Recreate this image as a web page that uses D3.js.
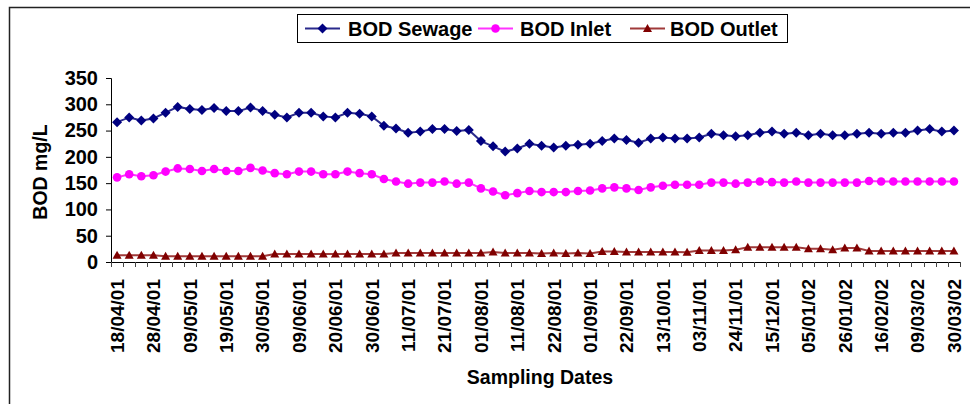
<!DOCTYPE html>
<html>
<head>
<meta charset="utf-8">
<script src="https://cdn.jsdelivr.net/npm/d3@7"></script>
<style>
    body { margin: 0; background: #fff; }
    svg { font-family: "Liberation Sans", Arial, sans-serif; font-weight: bold; }
</style>
</head>
<body>
<div id="chart"></div>
<script>
// x labels shown on every 3rd sampling point
const tickLabels = ['18/04/01', '28/04/01', '09/05/01', '19/05/01', '30/05/01', '09/06/01',
    '20/06/01', '30/06/01', '11/07/01', '21/07/01', '01/08/01', '11/08/01', '22/08/01',
    '01/09/01', '22/09/01', '13/10/01', '03/11/01', '24/11/01', '15/12/01', '05/01/02',
    '26/01/02', '16/02/02', '09/03/02', '30/03/02'];
const labelStep = 3;

const sewage = [266, 275, 269, 273, 284, 295, 291, 289, 293, 287, 287, 294, 287, 280, 275, 284, 284, 277,
    275, 284, 282, 277, 259, 254, 246, 248, 253, 253, 249, 251, 230, 220, 210, 216, 225,
    221, 218, 221, 223, 225, 230, 235, 232, 227, 235, 237, 235, 235, 237, 244, 241, 239,
    241, 246, 248, 244, 246, 241, 244, 241, 241, 244, 246, 244, 246, 246, 250, 253, 248, 250];
const inlet = [161, 167, 163, 165, 172, 178, 177, 173, 177, 173, 173, 179, 174, 169, 167, 172, 172, 167,
    167, 172, 169, 167, 158, 153, 149, 151, 151, 153, 149, 151, 140, 134, 127, 131, 135,
    133, 133, 133, 135, 136, 140, 142, 140, 137, 142, 145, 147, 147, 147, 151, 151, 149,
    151, 153, 152, 151, 153, 151, 151, 151, 151, 151, 154, 153, 153, 153, 153, 153, 153, 153];
const outlet = [13, 13, 13, 13, 11, 11, 11, 11, 11, 11, 11, 11, 11, 15, 15, 15, 15, 15,
    15, 15, 15, 15, 15, 17, 17, 17, 17, 17, 17, 17, 17, 19, 17, 17, 17,
    16, 17, 16, 17, 16, 20, 20, 19, 19, 19, 19, 19, 18.5, 22, 22, 22, 23.5,
    28, 28, 28, 28, 28, 25, 25, 23.5, 26.5, 26.5, 21, 21, 21, 21, 21, 21, 21, 21];
const yTicks = [0, 50, 100, 150, 200, 250, 300, 350];

const series = [
    { name: 'BOD Sewage', values: sewage, color: '#000080', line: '#2a2a8c', marker: 'diamond' },
    { name: 'BOD Inlet', values: inlet, color: '#ff00ff', line: '#ff33ff', marker: 'circle' },
    { name: 'BOD Outlet', values: outlet, color: '#800000', line: '#a03a3a', marker: 'triangle' }
];

const W = 970, H = 404;
const plot = { left: 111, right: 960, top: 78, bottom: 262 };

let svg = d3.select('#chart').append('svg')
    .attr('width', W)
    .attr('height', H);

// outer frame (top + left edge visible)
svg.append('path')
    .attr('d', `M9.5,${H} V7.5 H${W}`)
    .attr('fill', 'none')
    .attr('stroke', '#222')
    .attr('stroke-width', 1.5);

let idx = d3.range(sewage.length);
let x = d3.scaleBand().domain(idx).range([plot.left, plot.right]);
let cx = i => x(i) + x.bandwidth() / 2;
let y = d3.scaleLinear().domain([0, 350]).range([plot.bottom, plot.top]);

// y axis
let yAxis = svg.append('g')
    .attr('transform', `translate(${plot.left},0)`)
    .call(d3.axisLeft(y).tickValues(yTicks).tickSize(5).tickPadding(8));
yAxis.select('.domain').attr('stroke', '#000');
yAxis.selectAll('.tick line').attr('stroke', '#000');
yAxis.selectAll('text')
    .attr('font-size', 20)
    .attr('font-family', '"Liberation Sans", Arial, sans-serif')
    .attr('font-weight', 'bold')
    .attr('fill', '#000');

// x axis: ticks between categories
let xg = svg.append('g');
xg.append('line')
    .attr('x1', plot.left).attr('x2', plot.right)
    .attr('y1', plot.bottom + 0.5).attr('y2', plot.bottom + 0.5)
    .attr('stroke', '#000');
xg.selectAll('line.tk')
    .data(d3.range(sewage.length + 1))
    .join('line')
    .attr('class', 'tk')
    .attr('x1', i => Math.round(plot.left + i * x.step()) + 0.5)
    .attr('x2', i => Math.round(plot.left + i * x.step()) + 0.5)
    .attr('y1', plot.bottom)
    .attr('y2', plot.bottom + 5)
    .attr('stroke', '#444');
xg.selectAll('text')
    .data(tickLabels)
    .join('text')
    .attr('transform', (d, i) => `translate(${cx(i * labelStep)},${plot.bottom + 17}) rotate(-90)`)
    .attr('text-anchor', 'end')
    .attr('dy', '0.36em')
    .attr('font-size', 19)
    .text(d => d);

// axis titles
svg.append('text')
    .attr('transform', `translate(40,${(plot.top + plot.bottom) / 2 + 2}) rotate(-90)`)
    .attr('text-anchor', 'middle')
    .attr('dy', '0.36em')
    .attr('font-size', 19.5)
    .text('BOD mg/L');
svg.append('text')
    .attr('x', 540)
    .attr('y', 384)
    .attr('text-anchor', 'middle')
    .attr('font-size', 19.5)
    .text('Sampling Dates');

function marker(g, type, color) {
    if (type === 'diamond') {
        g.append('path').attr('d', 'M0,-5L5,0L0,5L-5,0Z').attr('fill', color);
    } else if (type === 'circle') {
        g.append('circle').attr('r', 4.3).attr('fill', color);
    } else {
        g.append('path').attr('d', 'M0,-4.5L4.5,3.5L-4.5,3.5Z').attr('fill', color);
    }
}

let line = d3.line().x((d, i) => cx(i)).y(d => y(d));

series.forEach(s => {
    svg.append('path')
        .attr('d', line(s.values))
        .attr('fill', 'none')
        .attr('stroke', s.line)
        .attr('stroke-width', 2);
    s.values.forEach((v, i) => {
        let g = svg.append('g').attr('transform', `translate(${cx(i)},${y(v)})`);
        marker(g, s.marker, s.color);
    });
});

// legend
let lg = svg.append('g');
lg.append('rect')
    .attr('x', 297.5).attr('y', 14.5)
    .attr('width', 490).attr('height', 28)
    .attr('fill', '#fff')
    .attr('stroke', '#000');
let legendX = [305, 478, 630];
let legendTextX = [348, 520, 670];
series.forEach((s, i) => {
    let lx = legendX[i];
    lg.append('line')
        .attr('x1', lx).attr('x2', lx + 35)
        .attr('y1', 28.5).attr('y2', 28.5)
        .attr('stroke', s.line).attr('stroke-width', 2);
    let g = lg.append('g').attr('transform', `translate(${lx + 17.5},28.5)`);
    marker(g, s.marker, s.color);
    lg.append('text')
        .attr('x', legendTextX[i])
        .attr('y', 35.5)
        .attr('font-size', 20)
        .text(s.name);
});
</script>
</body>
</html>
